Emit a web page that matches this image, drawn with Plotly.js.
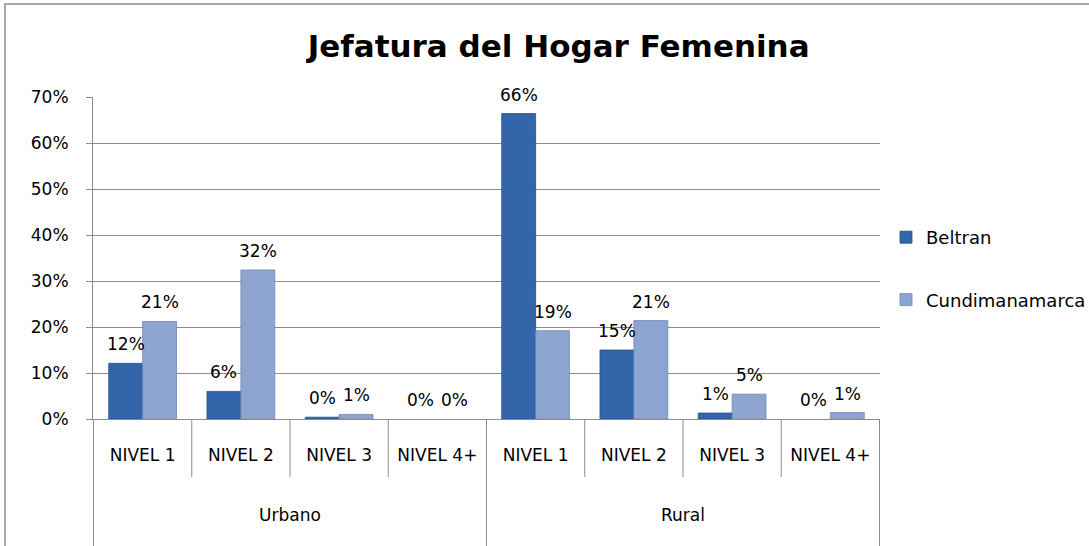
<!DOCTYPE html>
<html><head><meta charset="utf-8">
<script src="https://cdn.plot.ly/plotly-3.0.1.min.js"></script>
<style>html,body{margin:0;padding:0;background:#fff}#chart{width:1089px;height:546px}</style>
</head><body><div id="chart"></div>
<script>
const groups = ["Urbano","Urbano","Urbano","Urbano","Rural","Rural","Rural","Rural"];
const levels = ["NIVEL 1","NIVEL 2","NIVEL 3","NIVEL 4+","NIVEL 1","NIVEL 2","NIVEL 3","NIVEL 4+"];
const beltran = [0.121, 0.060, 0.004, 0.000, 0.664, 0.150, 0.013, 0.000];
const cundinamarca = [0.212, 0.324, 0.010, 0.000, 0.192, 0.214, 0.054, 0.014];
const seriesNames = ["Beltran","Cundimanamarca"];
const groupNames = ["Urbano","Rural"];

const keys = groups.map((g,i)=> g + " " + levels[i]);
const FONT = "DejaVu Sans, sans-serif";
const FS = 17;

const mk = (name, vals, color, lineColor, grp) => ({
  type:"bar", name:name, x:keys, y:vals,
  marker:{color:color, line:{color:lineColor, width:vals.map(v=>v>0?0.8:0)}},
  legendgroup:grp, hoverinfo:"skip"
});

const traces = [
  mk(seriesNames[0], beltran, "#3365AA", "#24508c", "a"),
  mk(seriesNames[1], cundinamarca, "#8FA5D1", "#6f86b4", "b")
];

const L=93, R=880, T=97, B=419;
const H=B-T, W=R-L;
const py = p => (B-p)/H;
const px = p => (p-L)/W;

const shapes = [];
for (let i=0;i<=8;i++){
  const big = (i===0||i===4||i===8);
  shapes.push({type:"line", xref:"x", yref:"paper", x0:i-0.5, x1:i-0.5, y0:0, y1:py(big?546:477),
    line:{color:"#8c8c8c", width:1}});
}
shapes.push({type:"rect", xref:"paper", yref:"paper", x0:px(5), x1:px(1100), y0:py(560), y1:py(4),
  line:{color:"#8c8c8c", width:1.5}, fillcolor:"rgba(0,0,0,0)", layer:"below"});

const annotations = groupNames.map((g,k)=>({
  xref:"x", yref:"paper", x:1.5+4*k, y:py(515), text:g, showarrow:false,
  font:{family:FONT, size:FS, color:"#000"}, xanchor:"center", yanchor:"middle"
}));

// data labels, placed at each bar's value through the axes
[beltran, cundinamarca].forEach((vals, s) => {
  vals.forEach((v, i) => {
    annotations.push({
      xref:"x", yref:"y", x:keys[i], y:v, text:Math.round(v*100)+"%", showarrow:false,
      xanchor:"center", yanchor:"bottom", xshift:(s===0?-17:17), yshift:7,
      font:{family:FONT, size:FS, color:"#000"}
    });
  });
});

const layout = {
  width:1089, height:546,
  margin:{l:L, r:1089-R, t:T, b:546-B, autoexpand:false},
  paper_bgcolor:"#fff", plot_bgcolor:"#fff",
  title:{text:"<b>Jefatura del Hogar Femenina</b>", x:0.513, xanchor:"center", y:0.915, yanchor:"middle",
    font:{family:FONT, size:31, color:"#000"}},
  barmode:"group", bargap:0.31, bargroupgap:0,
  xaxis:{type:"category", tickvals:keys, ticktext:levels, ticks:"", showgrid:false,
    showline:true, linecolor:"#8c8c8c", linewidth:1,
    tickfont:{family:FONT, size:FS, color:"#000"}, ticklabelstandoff:21, fixedrange:true},
  yaxis:{range:[0,0.7], dtick:0.1, tickformat:".0%", showgrid:true, gridcolor:"#8c8c8c", gridwidth:1,
    showline:true, linecolor:"#8c8c8c", linewidth:1, ticks:"outside", ticklen:6, tickcolor:"#8c8c8c",
    tickfont:{family:FONT, size:FS, color:"#000"}, ticklabelstandoff:14, zeroline:false, fixedrange:true},
  legend:{x:px(886), xanchor:"left", y:py(219), yanchor:"top", tracegroupgap:36,
    font:{family:FONT, size:18, color:"#000"}, bgcolor:"rgba(0,0,0,0)", itemwidth:30},
  showlegend:true,
  shapes:shapes, annotations:annotations
};

Plotly.newPlot("chart", traces, layout, {staticPlot:true, displayModeBar:false});
</script></body></html>
